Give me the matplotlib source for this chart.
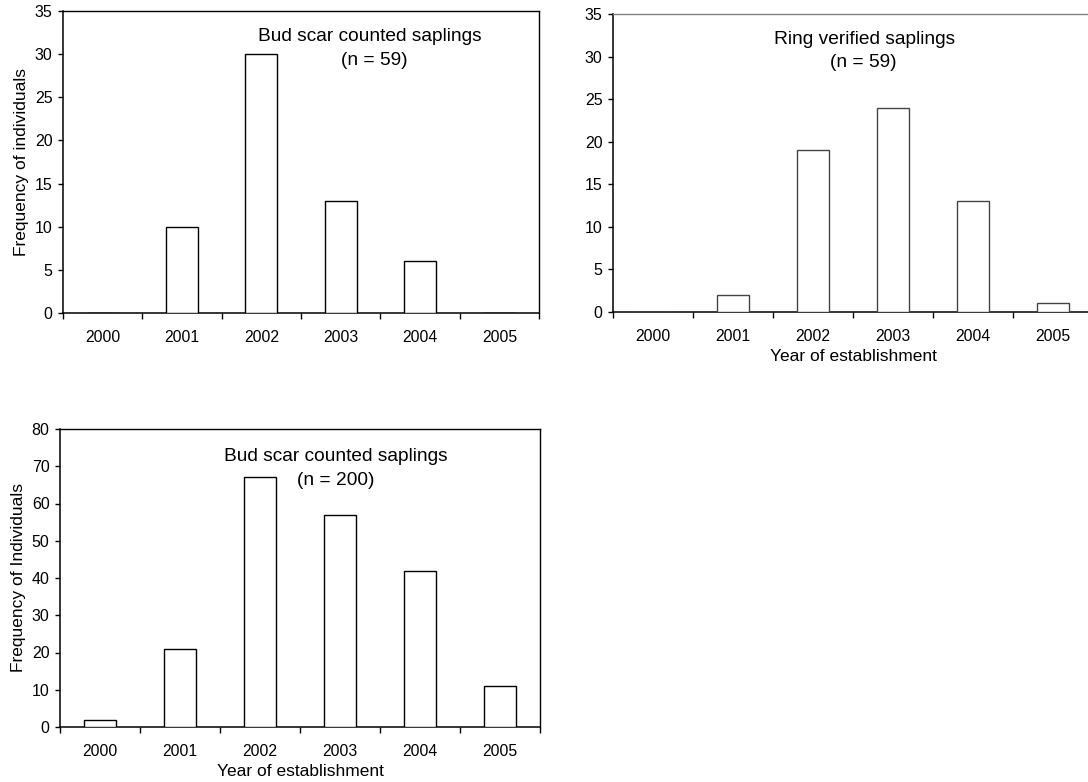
import matplotlib
matplotlib.use("Agg")
import matplotlib.pyplot as plt
import numpy as np

plt.rcParams["font.family"] = ["Liberation Sans", "DejaVu Sans"]

years = ["2000", "2001", "2002", "2003", "2004", "2005"]
bud_scar_59 = [0, 10, 30, 13, 6, 0]
ring_verified_59 = [0, 2, 19, 24, 13, 1]
bud_scar_200 = [2, 21, 67, 57, 42, 11]

W, H = 1088, 782
fig = plt.figure(figsize=(W / 100, H / 100), dpi=100)


def px_axes(x0, y0, x1, y1):
    # pixel box (left, top, right, bottom) -> figure fraction
    return fig.add_axes([x0 / W, 1 - y1 / H, (x1 - x0) / W, (y1 - y0) / H])


def panel(ax, counts, ymax, ystep, title, n_text, t_xy, n_xy, ylabel=None, xlabel=None,
          edge="black", top_col="black", right=True):
    x = np.arange(len(years))
    ax.bar(x, counts, width=0.40, color="white", edgecolor=edge, lw=1.0, zorder=3)
    ax.set_xlim(-0.5, len(years) - 0.5)
    ax.set_ylim(0, ymax)
    ax.set_yticks(np.arange(0, ymax + 1, ystep))
    ax.set_xticks(x)
    ax.set_xticklabels(years)
    ax.set_xticks(np.arange(-0.5, len(years)), minor=True)
    ax.tick_params(axis="x", which="major", length=0, pad=12, labelsize=11.3)
    ax.tick_params(axis="x", which="minor", length=4.5, width=1.0, direction="out")
    ax.tick_params(axis="y", length=3.5, width=1.0, direction="out", pad=4, labelsize=11.5)
    for s in ("left", "bottom"):
        ax.spines[s].set_linewidth(1.1)
        ax.spines[s].set_color("black")
    ax.spines["top"].set_linewidth(1.0)
    ax.spines["top"].set_color(top_col)
    ax.spines["right"].set_linewidth(1.0)
    ax.spines["right"].set_color(top_col)
    ax.spines["right"].set_visible(right)
    ax.text(t_xy[0], t_xy[1], title, ha="center", va="center", fontsize=13.8)
    ax.text(n_xy[0], n_xy[1], n_text, ha="center", va="center", fontsize=13.8)
    if ylabel:
        ax.set_ylabel(ylabel, fontsize=12.5, labelpad=4)
    if xlabel:
        ax.set_xlabel(xlabel, fontsize=12.5, labelpad=4)


ax1 = px_axes(63, 11, 539, 313)
panel(ax1, bud_scar_59, 35, 5, "Bud scar counted saplings", "(n = 59)",
      (3.37, 32.1), (3.42, 29.3), ylabel="Frequency of individuals")

ax2 = px_axes(613, 14, 1093, 312)
panel(ax2, ring_verified_59, 35, 5, "Ring verified saplings", "(n = 59)",
      (2.65, 32.06), (2.625, 29.36), xlabel="Year of establishment",
      edge="#444444", top_col="#808080", right=False)

ax3 = px_axes(60, 429, 540, 727)
panel(ax3, bud_scar_200, 80, 10, "Bud scar counted saplings", "(n = 200)",
      (2.95, 72.5), (2.95, 66.3), ylabel="Frequency of Individuals",
      xlabel="Year of establishment")

fig.savefig("out.png", dpi=100)
